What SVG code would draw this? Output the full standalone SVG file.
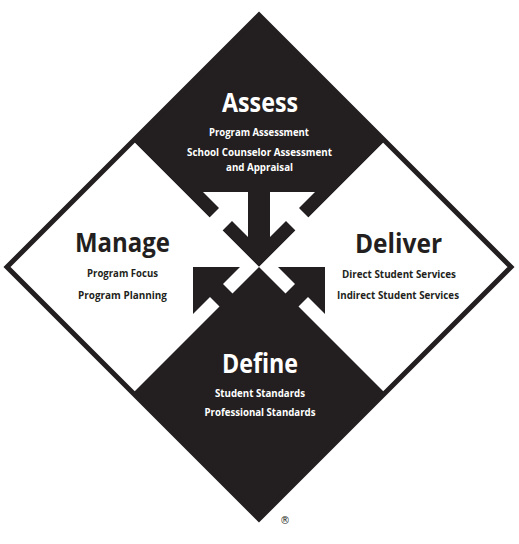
<svg xmlns="http://www.w3.org/2000/svg" width="519" height="544" viewBox="0 0 519 544">
<style>
.dark{fill:#231f20}
.light{fill:#ffffff}
.title{font-family:"Open Sans","Liberation Sans",sans-serif;font-weight:700;font-size:26px;text-anchor:middle}
.sub{font-family:"Open Sans","Liberation Sans",sans-serif;font-weight:700;font-size:11px;text-anchor:middle}
.onDark{fill:#ffffff}
.onLight{fill:#231f20}
</style>
<rect width="519" height="544" fill="#ffffff"/>
<g id="assess">
<polygon class="dark" points="259,15 385,141 259,267 133,141"/>
<text class="title onDark" x="260" y="112" textLength="76" lengthAdjust="spacingAndGlyphs">Assess</text>
<text class="sub onDark" x="259" y="136" textLength="100" lengthAdjust="spacingAndGlyphs">Program Assessment</text>
<text class="sub onDark" x="259.5" y="155.5" textLength="145" lengthAdjust="spacingAndGlyphs">School Counselor Assessment</text>
<text class="sub onDark" x="259.5" y="171" textLength="67" lengthAdjust="spacingAndGlyphs">and Appraisal</text>
</g>
<g id="manage">
<polygon class="light" points="7,267 133,141 259,267 133,393"/>
<text class="title onLight" x="122.5" y="252" textLength="95" lengthAdjust="spacingAndGlyphs">Manage</text>
<text class="sub onLight" x="122.5" y="277" textLength="71" lengthAdjust="spacingAndGlyphs">Program Focus</text>
<text class="sub onLight" x="122.5" y="299" textLength="89" lengthAdjust="spacingAndGlyphs">Program Planning</text>
</g>
<g id="deliver">
<polygon class="light" points="511,267 385,141 259,267 385,393"/>
<text class="title onLight" x="398.5" y="253" textLength="87" lengthAdjust="spacingAndGlyphs">Deliver</text>
<text class="sub onLight" x="399" y="278" textLength="114" lengthAdjust="spacingAndGlyphs">Direct Student Services</text>
<text class="sub onLight" x="398" y="299" textLength="122" lengthAdjust="spacingAndGlyphs">Indirect Student Services</text>
</g>
<g id="define">
<polygon class="dark" points="259,519 133,393 259,267 385,393"/>
<text class="title onDark" x="260" y="373" textLength="76" lengthAdjust="spacingAndGlyphs">Define</text>
<text class="sub onDark" x="260" y="397" textLength="90" lengthAdjust="spacingAndGlyphs">Student Standards</text>
<text class="sub onDark" x="260" y="416" textLength="111" lengthAdjust="spacingAndGlyphs">Professional Standards</text>
</g>
<g id="connectors">
<polygon class="light" points="203,192 248,192 248,237 232,221 216.5,236.5 203.5,223.5 219,208"/>
<polygon class="light" points="315,192 270,192 270,237 286,221 301.5,236.5 314.5,223.5 299,208"/>
<polygon class="dark" points="193,267 240,267 223,284 242,303 229,316 210,297 193,314"/>
<polygon class="dark" points="325,267 278,267 295,284 276,303 289,316 308,297 325,314"/>
</g>
<polygon points="259,15 511,267 259,519 7,267" fill="none" stroke="#231f20" stroke-width="5" stroke-linejoin="miter"/>
<text x="285" y="524" font-family="'DejaVu Sans',sans-serif" font-size="10" text-anchor="middle" fill="#231f20">®</text>
</svg>
